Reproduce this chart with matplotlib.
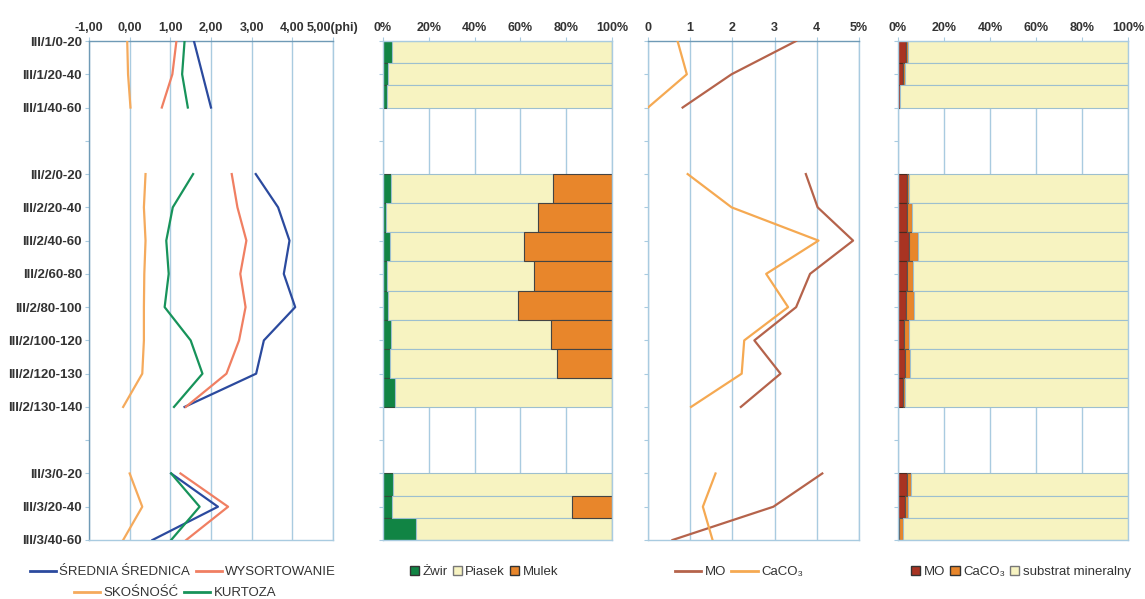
import numpy as np
import matplotlib
matplotlib.use("Agg")
import matplotlib.pyplot as plt
from matplotlib.lines import Line2D
from matplotlib.patches import Patch

plt.rcParams['font.family'] = ['Liberation Sans Narrow', 'Liberation Sans', 'DejaVu Sans']

nan = np.nan

# sample depths per pit; empty strings are spacer rows between pits
samples = ["III/1/0-20", "III/1/20-40", "III/1/40-60", "",
           "III/2/0-20", "III/2/20-40", "III/2/40-60", "III/2/60-80",
           "III/2/80-100", "III/2/100-120", "III/2/120-130", "III/2/130-140", "",
           "III/3/0-20", "III/3/20-40", "III/3/40-60"]

# grain-size parameters (phi)
srednia = [1.58, 1.79, 2.00, nan, 3.10, 3.65, 3.93, 3.79, 4.07, 3.30, 3.11, 1.35, nan, 1.02, 2.17, 0.56]
wysort = [1.15, 1.05, 0.79, nan, 2.51, 2.65, 2.87, 2.72, 2.85, 2.69, 2.38, 1.38, nan, 1.25, 2.42, 1.39]
skosnosc = [-0.06, -0.04, 0.02, nan, 0.39, 0.35, 0.39, 0.36, 0.35, 0.35, 0.31, -0.16, nan, 0.00, 0.31, -0.16]
kurtoza = [1.35, 1.29, 1.43, nan, 1.56, 1.06, 0.90, 0.96, 0.86, 1.50, 1.79, 1.09, nan, 1.02, 1.72, 1.02]

# fractions (%)
zwir = [4.1, 2.0, 1.6, nan, 3.5, 1.2, 3.1, 1.6, 2.3, 3.3, 3.1, 5.2, nan, 4.5, 4.1, 14.4]
piasek = [95.9, 98.0, 98.4, nan, 70.6, 66.6, 58.3, 64.5, 56.8, 69.9, 73.0, 94.8, nan, 95.5, 78.4, 85.6]
mulek = [0.0, 0.0, 0.0, nan, 25.9, 32.2, 38.6, 33.9, 40.9, 26.8, 23.9, 0.0, nan, 0.0, 17.5, 0.0]

# organic matter and carbonates (%)
mo = [3.51, 1.98, 0.82, nan, 3.74, 4.02, 4.86, 3.84, 3.51, 2.52, 3.14, 2.20, nan, 4.13, 2.97, 0.58]
caco3 = [0.70, 0.92, 0.00, nan, 0.94, 1.98, 4.04, 2.80, 3.32, 2.28, 2.22, 1.02, nan, 1.60, 1.30, 1.53]
substrat = [95.79, 97.10, 99.18, nan, 95.32, 94.00, 91.10, 93.36, 93.17, 95.20, 94.64, 96.78, nan, 94.27, 95.73, 97.89]

phi_ticks = [-1, 0, 1, 2, 3, 4, 5]
phi_labels = ["-1,00", "0,00", "1,00", "2,00", "3,00", "4,00", "5,00(phi)"]
pct_ticks = [0, 20, 40, 60, 80, 100]
pct_labels = ["0%", "20%", "40%", "60%", "80%", "100%"]
om_ticks = [0, 1, 2, 3, 4, 5]
om_labels = ["0", "1", "2", "3", "4", "5%"]

GRID = "#a9cbe0"
SPINE = "#6f9ab6"
TXT = "#333333"

fig = plt.figure(figsize=(11.45, 5.99), dpi=100)
bottom, top = 1 - 540 / 599, 1 - 41 / 599
h = top - bottom


def make_ax(x0, x1):
    return fig.add_axes([x0 / 1145, bottom, (x1 - x0) / 1145, h])


def style(ax, xlim, ticks, labels):
    n = len(samples)
    ax.set_xlim(*xlim)
    ax.set_ylim(n - 1, 0)
    ax.xaxis.tick_top()
    ax.set_xticks(ticks)
    ax.set_xticklabels(labels, fontsize=9, color=TXT, fontweight="bold")
    ax.set_yticks(range(n))
    ax.set_yticklabels([])
    ax.tick_params(axis="both", colors=GRID, length=3, width=0.8, labelcolor=TXT, pad=2)
    ax.grid(axis="x", color=GRID, lw=1.0, zorder=0)
    ax.set_axisbelow(True)
    for s in ax.spines.values():
        s.set_color(GRID)
        s.set_linewidth(1.0)


def groups():
    # consecutive runs of real samples
    out, run = [], []
    for i, s in enumerate(samples):
        if s:
            run.append(i)
        elif run:
            out.append(run)
            run = []
    if run:
        out.append(run)
    return out


def stacked(ax, series, colors, edges):
    for run in groups():
        s, e = run[0], run[-1]
        n = len(run)
        bh = (e - s) / n
        ys = s + bh * (np.arange(n) + 0.5)
        left = np.zeros(n)
        for vals, c, ec in zip(series, colors, edges):
            v = np.array([vals[i] for i in run])
            ax.barh(ys, v, height=bh, left=left, color=c, edgecolor=ec, lw=0.8, zorder=2)
            left += v


# panel 1: grain-size parameters
ax1 = make_ax(89, 333)
style(ax1, (-1, 5), phi_ticks, phi_labels)
ax1.set_yticklabels(samples, fontsize=9.5, color=TXT, fontweight="bold")
ax1.spines["top"].set_color(SPINE)
ax1.spines["left"].set_color(SPINE)
y = np.arange(len(samples))
c_sr, c_wy, c_sk, c_ku = "#2b4a9e", "#f07f62", "#f5aa5c", "#17935a"
ax1.plot(srednia, y, color=c_sr, lw=1.6, zorder=3)
ax1.plot(wysort, y, color=c_wy, lw=1.6, zorder=3)
ax1.plot(skosnosc, y, color=c_sk, lw=1.6, zorder=3)
ax1.plot(kurtoza, y, color=c_ku, lw=1.6, zorder=3)

# panel 2: fractions
c_zw, c_pi, c_mu = "#118444", "#f7f3c1", "#e8862b"
ax2 = make_ax(383, 612)
style(ax2, (0, 100), pct_ticks, pct_labels)
stacked(ax2, [zwir, piasek, mulek], [c_zw, c_pi, c_mu], ["#2f4f3a", "#9dbfcf", "#444444"])

# panel 3: MO and CaCO3 profiles
c_mo, c_ca = "#b5634b", "#f5a952"
ax3 = make_ax(648, 859)
style(ax3, (0, 5), om_ticks, om_labels)
ax3.spines["top"].set_color(SPINE)
ax3.plot(mo, y, color=c_mo, lw=1.6, zorder=3)
ax3.plot(caco3, y, color=c_ca, lw=1.6, zorder=3)

# panel 4: composition
c_mob = "#a83322"
ax4 = make_ax(898, 1128)
style(ax4, (0, 100), pct_ticks, pct_labels)
stacked(ax4, [mo, caco3, substrat], [c_mob, c_mu, c_pi], ["#4a2a20", "#555555", "#9dbfcf"])

# legends
leg_kw = dict(frameon=False, fontsize=9.5, handletextpad=0.25, columnspacing=0.4,
              borderaxespad=0, borderpad=0, labelcolor=TXT)
line_kw = dict(handlelength=2.0)
fig.legend([Line2D([], [], color=c_sr, lw=2), Line2D([], [], color=c_wy, lw=2)],
           ["ŚREDNIA ŚREDNICA", "WYSORTOWANIE"], loc="center",
           bbox_to_anchor=(183 / 1145, 1 - 572 / 599), ncol=2, **leg_kw, **line_kw)
fig.legend([Line2D([], [], color=c_sk, lw=2), Line2D([], [], color=c_ku, lw=2)],
           ["SKOŚNOŚĆ", "KURTOZA"], loc="center",
           bbox_to_anchor=(175 / 1145, 1 - 593 / 599), ncol=2, **leg_kw, **line_kw)
sq_kw = dict(handlelength=0.7, handleheight=0.7)
fig.legend([Patch(fc=c_zw, ec="#333"), Patch(fc=c_pi, ec="#777"), Patch(fc=c_mu, ec="#333")],
           ["Żwir", "Piasek", "Mulek"], loc="center",
           bbox_to_anchor=(484 / 1145, 1 - 572 / 599), ncol=3, **leg_kw, **sq_kw)
fig.legend([Line2D([], [], color=c_mo, lw=2), Line2D([], [], color=c_ca, lw=2)],
           ["MO", "CaCO₃"], loc="center",
           bbox_to_anchor=(739 / 1145, 1 - 572 / 599), ncol=2, **leg_kw, **line_kw)
fig.legend([Patch(fc=c_mob, ec="#333"), Patch(fc=c_mu, ec="#333"), Patch(fc=c_pi, ec="#777")],
           ["MO", "CaCO₃", "substrat mineralny"], loc="center",
           bbox_to_anchor=(1021 / 1145, 1 - 572 / 599), ncol=3, **leg_kw, **sq_kw)

fig.savefig("out.png", dpi=100)
